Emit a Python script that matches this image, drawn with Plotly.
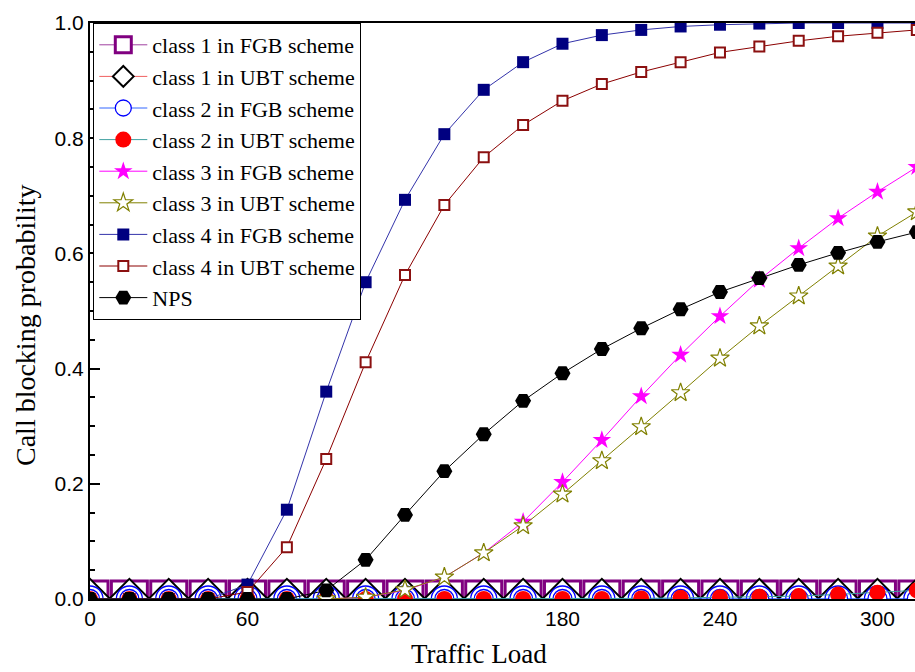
import plotly.graph_objects as go

########################
#  DATA (read off fig) #
########################

traffic_load = [0, 15, 30, 45, 60, 75, 90, 105, 120, 135, 150, 165,
                180, 195, 210, 225, 240, 255, 270, 285, 300, 315]
# class 3 curves only start at 90
traffic_load_c3 = traffic_load[6:]

class1_fgb = [0.0] * 22
class1_ubt = [0.0] * 22
class2_fgb = [0.0] * 22
class2_ubt = [0, 0, 0, 0, 0, 0, 0, 0, 0, 0, 0, 0,
              0, 0, 0.001, 0.002, 0.003, 0.004, 0.005, 0.008, 0.011, 0.015]
class3_fgb = [0, 0.003, 0.015, 0.038, 0.08, 0.134, 0.203, 0.276,
              0.352, 0.424, 0.491, 0.554, 0.609, 0.661, 0.707, 0.75]
class3_ubt = [0, 0.003, 0.016, 0.038, 0.08, 0.127, 0.182, 0.24,
              0.299, 0.358, 0.418, 0.474, 0.526, 0.578, 0.63, 0.672]
class4_fgb = [0, 0, 0, 0, 0.025, 0.155, 0.36, 0.55, 0.693, 0.807, 0.884,
              0.932, 0.964, 0.979, 0.988, 0.994, 0.997, 0.999, 1.0, 1.0, 1.0, 1.0]
class4_ubt = [0, 0, 0, 0, 0.012, 0.09, 0.243, 0.411, 0.5625, 0.684, 0.767,
              0.823, 0.865, 0.894, 0.915, 0.932, 0.949, 0.959, 0.969, 0.977, 0.983, 0.988]
nps = [0, 0, 0, 0, 0, 0, 0.015, 0.068, 0.146, 0.222, 0.286, 0.344,
       0.392, 0.434, 0.47, 0.503, 0.533, 0.557, 0.58, 0.601, 0.62, 0.637]

y_ticks = [0.0, 0.2, 0.4, 0.6, 0.8, 1.0]
x_ticks = [0, 60, 120, 180, 240, 300]

serif = 'Liberation Serif, Times New Roman, serif'
sans = 'Liberation Sans, Arial, sans-serif'

fig = go.Figure()


def add_series(x, y, name, line_color, symbol, size, fill, edge, edge_w, legend=True):
    fig.add_trace(
        go.Scatter(
            x=x, y=y, name=name, showlegend=legend,
            mode='lines+markers',
            line=dict(color=line_color, width=1),
            marker=dict(symbol=symbol, size=size, color=fill,
                        line=dict(color=edge, width=edge_w))
        )
    )


#############
#  SERIES   #
#############

add_series(traffic_load, class1_fgb, 'class 1 in FGB scheme', '#a040a0',
           'square', 36, 'white', '#800080', 3)
add_series(traffic_load, class1_ubt, 'class 1 in UBT scheme', '#f06060',
           'diamond', 31, 'white', 'black', 2)
# outer ring of the double circle (no legend entry)
add_series(traffic_load, class2_fgb, 'class 2 in FGB scheme', '#3366ff',
           'circle-open', 26, 'blue', 'blue', 1.3, legend=False)
add_series(traffic_load, class2_fgb, 'class 2 in FGB scheme', '#3366ff',
           'circle', 19, 'white', 'blue', 1.3)
add_series(traffic_load, class2_ubt, 'class 2 in UBT scheme', '#40a0a0',
           'circle', 16, 'red', 'red', 0)
add_series(traffic_load_c3, class3_fgb, 'class 3 in FGB scheme', '#ff00ff',
           'star', 14, '#ff00ff', '#ff00ff', 0)
add_series(traffic_load_c3, class3_ubt, 'class 3 in UBT scheme', '#808000',
           'star', 14, 'white', '#808000', 1.2)
add_series(traffic_load, class4_fgb, 'class 4 in FGB scheme', '#3333aa',
           'square', 12, '#000080', '#000080', 0)
add_series(traffic_load, class4_ubt, 'class 4 in UBT scheme', '#8b0000',
           'square', 10, 'white', '#8b1010', 2)
add_series(traffic_load, nps, 'NPS', 'black',
           'hexagon2', 16, 'black', 'black', 0)

###################
#  UPDATE LAYOUT  #
###################

fig.update_layout(
    width=915, height=672,
    margin=dict(l=90, r=0, t=23, b=73),
    paper_bgcolor='white', plot_bgcolor='white',
    showlegend=True,
    legend=dict(
        x=0.004, y=1.0, xanchor='left', yanchor='top',
        bgcolor='white', bordercolor='black', borderwidth=1,
        font=dict(family=serif, size=22, color='black'),
        itemwidth=48, tracegroupgap=0
    ),
    annotations=[
        dict(text='Traffic Load', x=479, y=654, xanchor='center', yanchor='middle',
             xref='paper', yref='paper', showarrow=False,
             font=dict(family=serif, size=27, color='black')),
        dict(text='Call blocking probability', x=25, y=325, textangle=-90,
             xanchor='center', yanchor='middle',
             xref='paper', yref='paper', showarrow=False,
             font=dict(family=serif, size=28, color='black')),
    ]
)

# annotations are placed in pixels -> convert to paper coords
for ann in fig.layout.annotations:
    ann.x = (ann.x - 90) / 825
    ann.y = (599 - ann.y) / 576

fig.update_xaxes(
    range=[0, 314.3], tickvals=x_ticks, ticktext=[str(v) for v in x_ticks],
    showgrid=False, zeroline=False,
    showline=True, linecolor='black', linewidth=2, mirror=True,
    ticks='', layer='below traces',
    tickfont=dict(family=sans, size=21, color='black')
)
fig.update_yaxes(
    range=[0, 1], tickvals=y_ticks, ticktext=['%.1f' % v for v in y_ticks],
    showgrid=False, zeroline=False,
    showline=True, linecolor='black', linewidth=2,
    ticks='inside', ticklen=10, tickwidth=2, tickcolor='black',
    minor=dict(dtick=0.05, ticks='inside', ticklen=5, tickwidth=2, tickcolor='black'),
    layer='below traces',
    tickfont=dict(family=sans, size=21, color='black')
)

# drop the default page margin so the figure sits at the window corner
fig.write_html("out.html", config={'displayModeBar': False},
               post_script="document.body.style.margin='0';")
